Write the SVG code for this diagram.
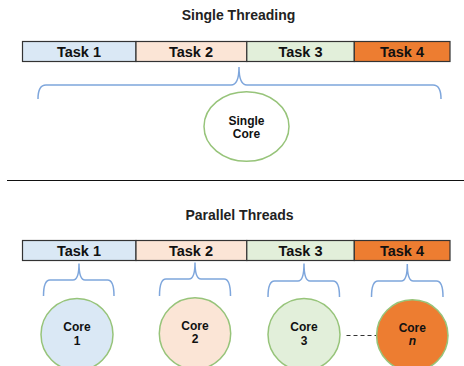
<svg xmlns="http://www.w3.org/2000/svg" width="464" height="366" viewBox="0 0 464 366">
  <style>
    .title { font-family: "Liberation Sans", Arial, sans-serif; font-weight: bold; font-size: 14px; fill: #222; text-anchor: middle; }
    .task { stroke: #333; stroke-width: 1.2; }
    .tlabel { font-family: "Liberation Sans", Arial, sans-serif; font-weight: bold; font-size: 14.5px; fill: #111; text-anchor: middle; }
    .brace { fill: none; stroke: #7ea6dc; stroke-width: 1.5; }
    .core { stroke: #97c47a; stroke-width: 1.5; }
    .clabel { font-family: "Liberation Sans", Arial, sans-serif; font-weight: bold; font-size: 12px; fill: #111; text-anchor: middle; }
    .t1 { fill: #dae8f5; }
    .t2 { fill: #fbe5d6; }
    .t3 { fill: #e2efda; }
    .t4 { fill: #ed7d31; }
  </style>

  <!-- Single threading section -->
  <text class="title" x="238.5" y="20">Single Threading</text>
  <g id="single-tasks">
    <rect class="task t1" x="22.5" y="41.5" width="113.5" height="20"/>
    <rect class="task t2" x="136" y="41.5" width="110.8" height="20"/>
    <rect class="task t3" x="246.8" y="41.5" width="107.5" height="20"/>
    <rect class="task t4" x="354.3" y="41.5" width="95.7" height="20"/>
    <text class="tlabel" x="79" y="56.5">Task 1</text>
    <text class="tlabel" x="191" y="56.5">Task 2</text>
    <text class="tlabel" x="300.5" y="56.5">Task 3</text>
    <text class="tlabel" x="402" y="56.5">Task 4</text>
  </g>
  <g id="single-core">
    <ellipse class="core" cx="246.5" cy="126.5" rx="42.5" ry="34.8" fill="#fff"/>
    <text class="clabel" x="246.5" y="124.5" font-size="11">Single</text>
    <text class="clabel" x="246.5" y="137.5" font-size="11">Core</text>
  </g>

  <!-- Divider -->
  <line x1="7" y1="180.5" x2="464" y2="180.5" stroke="#111" stroke-width="1"/>

  <!-- Parallel threads section -->
  <text class="title" x="239.5" y="220">Parallel Threads</text>
  <g id="parallel-tasks">
    <rect class="task t1" x="22.5" y="240.5" width="113.5" height="20"/>
    <rect class="task t2" x="136" y="240.5" width="110.8" height="20"/>
    <rect class="task t3" x="246.8" y="240.5" width="107.5" height="20"/>
    <rect class="task t4" x="354.3" y="240.5" width="95.7" height="20"/>
    <text class="tlabel" x="79" y="255.5">Task 1</text>
    <text class="tlabel" x="191" y="255.5">Task 2</text>
    <text class="tlabel" x="300.5" y="255.5">Task 3</text>
    <text class="tlabel" x="402" y="255.5">Task 4</text>
  </g>
  <g id="core-1">
    <circle class="core t1" cx="77" cy="334.5" r="36"/>
    <text class="clabel" x="77" y="331">Core</text>
    <text class="clabel" x="77" y="345">1</text>
  </g>
  <g id="core-2">
    <circle class="core t2" cx="195" cy="333.5" r="35.7"/>
    <text class="clabel" x="195" y="330">Core</text>
    <text class="clabel" x="195" y="343">2</text>
  </g>
  <g id="core-3">
    <circle class="core t3" cx="304" cy="334.5" r="36"/>
    <text class="clabel" x="304" y="331">Core</text>
    <text class="clabel" x="304" y="345">3</text>
  </g>
  <g id="core-n">
    <circle class="core t4" cx="412.3" cy="335.5" r="35.7"/>
    <text class="clabel" x="412.3" y="331.5">Core</text>
    <text class="clabel" x="412.3" y="345" font-style="italic" font-weight="normal">n</text>
  </g>

  <!-- Connectors: braces and ellipsis link -->
  <g id="connectors">
    <path class="brace" d="M38 99 Q38 85 46 85 H231 Q239 85 239 67 Q239 85 247 85 H433 Q441 85 441 99"/>
    <path class="brace" d="M43.5 296 Q43.5 280 50 280 H73 Q79 280 79 263.5 Q79 280 85 280 H107.5 Q114 280 114 296"/>
    <path class="brace" d="M159.5 296 Q159.5 279 166 279 H189 Q195 279 195 262.5 Q195 279 201 279 H224 Q230.5 279 230.5 296"/>
    <path class="brace" d="M268 297 Q268 281 274.5 281 H298 Q304 281 304 263.5 Q304 281 310 281 H333 Q339.5 281 339.5 297"/>
    <path class="brace" d="M371.5 297 Q371.5 281 378 281 H401.3 Q407.3 281 407.3 264 Q407.3 281 413.3 281 H436.5 Q443 281 443 297"/>
    <line x1="346.5" y1="335.5" x2="376" y2="335.5" stroke="#333" stroke-width="1" stroke-dasharray="4 3"/>
  </g>
</svg>
